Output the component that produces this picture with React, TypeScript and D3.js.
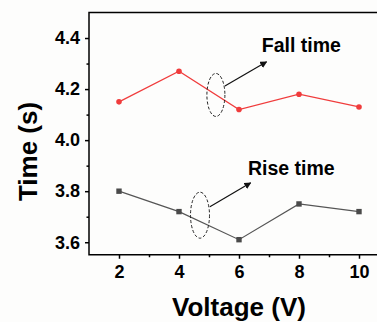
import { useEffect, useRef } from 'react'
import * as d3 from 'd3'

const voltages = [2, 4, 6, 8, 10]
const fallTime = [4.15, 4.27, 4.12, 4.18, 4.13]
const riseTime = [3.8, 3.72, 3.61, 3.75, 3.72]
const xTicks = [2, 4, 6, 8, 10]
const yTicks = [3.6, 3.8, 4.0, 4.2, 4.4]

export default function App() {
  const svgRef = useRef<SVGSVGElement>(null)

  useEffect(() => {
    const svg = d3.select(svgRef.current)
    svg.selectAll('*').remove()

    const W = 377
    const H = 322
    const margin = { top: 12.5, left: 89 }
    const innerW = 300
    const innerH = 242.25
    const font = 'Arial, "Liberation Sans", sans-serif'

    svg.attr('width', W).attr('height', H)
    svg.append('rect').attr('width', W).attr('height', H).attr('fill', '#fdfdfc')

    const defs = svg.append('defs')
    defs
      .append('marker')
      .attr('id', 'arrow')
      .attr('viewBox', '0 0 10 10')
      .attr('refX', 9)
      .attr('refY', 5)
      .attr('markerWidth', 7)
      .attr('markerHeight', 7)
      .attr('markerUnits', 'userSpaceOnUse')
      .attr('orient', 'auto')
      .append('path')
      .attr('d', 'M0,0 L10,5 L0,10 Z')
      .attr('fill', '#111')

    const g = svg.append('g').attr('transform', `translate(${margin.left},${margin.top})`)

    const x = d3.scaleLinear().domain([1, 11]).range([0, innerW])
    const y = d3.scaleLinear().domain([3.551, 4.5]).range([innerH, 0])

    // frame
    g.append('rect')
      .attr('width', innerW)
      .attr('height', innerH)
      .attr('fill', 'none')
      .attr('stroke', '#000')
      .attr('stroke-width', 1.5)

    // X axis
    g.append('g')
      .attr('transform', `translate(0,${innerH})`)
      .call(d3.axisBottom(x).tickValues(xTicks).tickSize(4).tickPadding(6).tickFormat((d) => `${d}`))
      .call((axis) => {
        axis.select('.domain').remove()
        axis.selectAll('.tick line').attr('stroke', '#000').attr('stroke-width', 1.5)
        axis.selectAll('.tick text')
          .attr('fill', '#000')
          .style('font-family', font)
          .style('font-weight', 'bold')
          .style('font-size', '18px')
      })
    g.append('g')
      .attr('transform', `translate(0,${innerH})`)
      .call(d3.axisBottom(x).tickValues([3, 5, 7, 9]).tickSize(2.5).tickFormat(() => ''))
      .call((axis) => {
        axis.select('.domain').remove()
        axis.selectAll('.tick line').attr('stroke', '#000').attr('stroke-width', 1.5)
      })

    // Y axis
    g.append('g')
      .call(d3.axisLeft(y).tickValues(yTicks).tickSize(4).tickPadding(5).tickFormat(d3.format('.1f')))
      .call((axis) => {
        axis.select('.domain').remove()
        axis.selectAll('.tick line').attr('stroke', '#000').attr('stroke-width', 1.5)
        axis.selectAll('.tick text')
          .attr('fill', '#000')
          .style('font-family', font)
          .style('font-weight', 'bold')
          .style('font-size', '18px')
      })
    g.append('g')
      .call(d3.axisLeft(y).tickValues([3.7, 3.9, 4.1, 4.3]).tickSize(2.5).tickFormat(() => ''))
      .call((axis) => {
        axis.select('.domain').remove()
        axis.selectAll('.tick line').attr('stroke', '#000').attr('stroke-width', 1.5)
      })

    // Series
    const line = d3
      .line<number>()
      .x((_, i) => x(voltages[i]))
      .y((d) => y(d))

    g.append('path')
      .datum(fallTime)
      .attr('fill', 'none')
      .attr('stroke', '#f03c3c')
      .attr('stroke-width', 1.2)
      .attr('d', line)
    g.selectAll('.fall-dot')
      .data(fallTime)
      .enter()
      .append('circle')
      .attr('class', 'fall-dot')
      .attr('cx', (_, i) => x(voltages[i]))
      .attr('cy', (d) => y(d))
      .attr('r', 2.8)
      .attr('fill', '#f03c3c')

    g.append('path')
      .datum(riseTime)
      .attr('fill', 'none')
      .attr('stroke', '#555')
      .attr('stroke-width', 1.2)
      .attr('d', line)
    g.selectAll('.rise-dot')
      .data(riseTime)
      .enter()
      .append('rect')
      .attr('class', 'rise-dot')
      .attr('x', (_, i) => x(voltages[i]) - 2.7)
      .attr('y', (d) => y(d) - 2.7)
      .attr('width', 5.4)
      .attr('height', 5.4)
      .attr('fill', '#4a4a4a')

    // Annotations (ellipses + arrows + labels), in data units
    const annotations = [
      { label: 'Fall time', cx: 5.23, cy: 4.177, rx: 9, ry: 21.5, ax0: 5.53, ay0: 4.212, ax1: 6.92, ay1: 4.307, tx: 6.76, ty: 4.345 },
      { label: 'Rise time', cx: 4.7, cy: 3.706, rx: 9.5, ry: 23, ax0: 5.03, ay0: 3.739, ax1: 6.39, ay1: 3.833, tx: 6.3, ty: 3.863 },
    ]
    annotations.forEach((a) => {
      g.append('ellipse')
        .attr('cx', x(a.cx))
        .attr('cy', y(a.cy))
        .attr('rx', a.rx)
        .attr('ry', a.ry)
        .attr('fill', 'none')
        .attr('stroke', '#222')
        .attr('stroke-width', 1)
        .attr('stroke-dasharray', '3,2')
      g.append('line')
        .attr('x1', x(a.ax0))
        .attr('y1', y(a.ay0))
        .attr('x2', x(a.ax1))
        .attr('y2', y(a.ay1))
        .attr('stroke', '#111')
        .attr('stroke-width', 1.2)
        .attr('marker-end', 'url(#arrow)')
      g.append('text')
        .attr('x', x(a.tx))
        .attr('y', y(a.ty))
        .attr('fill', '#000')
        .style('font-family', font)
        .style('font-weight', 'bold')
        .style('font-size', '19.5px')
        .text(a.label)
    })

    // Axis titles
    svg.append('text')
      .attr('x', margin.left + innerW / 2)
      .attr('y', 316)
      .attr('text-anchor', 'middle')
      .attr('fill', '#000')
      .style('font-family', font)
      .style('font-weight', 'bold')
      .style('font-size', '26px')
      .text('Voltage (V)')

    svg.append('text')
      .attr('transform', 'translate(37,151.5) rotate(-90)')
      .attr('text-anchor', 'middle')
      .attr('fill', '#000')
      .style('font-family', font)
      .style('font-weight', 'bold')
      .style('font-size', '26px')
      .text('Time (s)')
  }, [])

  return (
    <div style={{ position: 'absolute', left: 0, top: 0 }}>
      <svg ref={svgRef} style={{ display: 'block' }} />
    </div>
  )
}
